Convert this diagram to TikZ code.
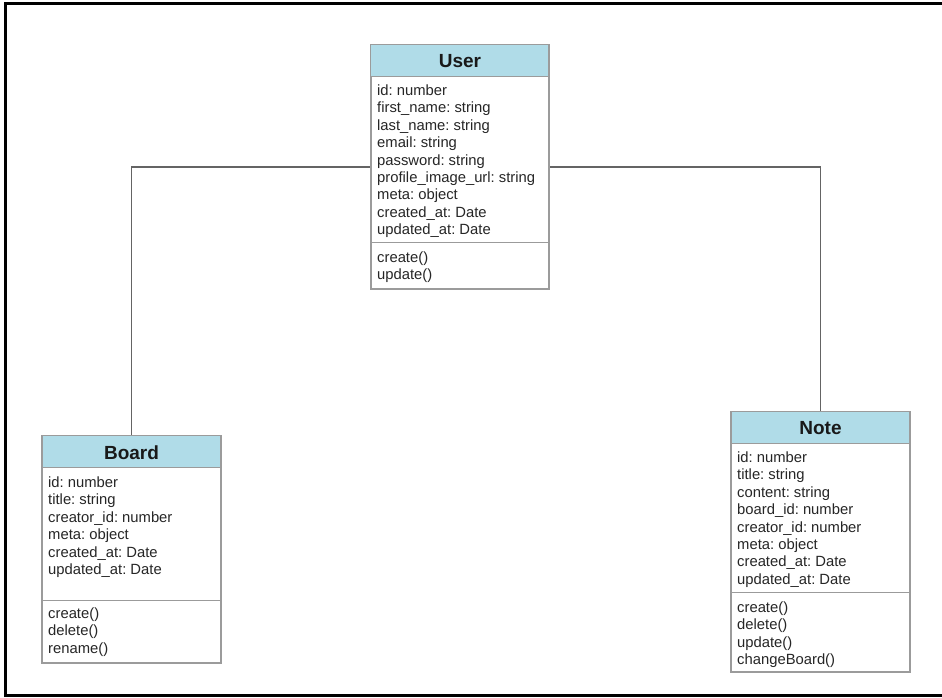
\documentclass[tikz,border=0pt]{standalone}
\usepackage{fontspec}
\setmainfont{Liberation Sans}
\frenchspacing
\definecolor{hdrblue}{RGB}{176,220,232}
\definecolor{boxgray}{RGB}{155,155,155}
\definecolor{conngray}{RGB}{100,100,100}
\begin{document}
\begin{tikzpicture}[x=1pt,y=-1pt,
  umlbox/.style={draw=boxgray, line width=1.3pt, fill=white, minimum width=178pt, inner sep=0pt},
  hdr/.style={fill=hdrblue},
  sepline/.style={draw=boxgray, line width=1.3pt},
  title/.style={font=\fontsize{19}{22}\selectfont\bfseries, inner sep=0pt, text=black!90},
  attr/.style={font=\fontsize{14.8}{17.4}\selectfont\frenchspacing, inner sep=0pt, anchor=base west, text=black!85},
  conn/.style={draw=conngray, line width=1.6pt},
  frame/.style={draw=black, line width=3pt}
]
\useasboundingbox (0,0) rectangle (942,697);
\draw[frame] (942,3.5) -- (5.5,3.5) -- (5.5,695.5) -- (942,695.5);

% boxes
\node[umlbox, minimum height=244pt] (user) at (460,167) {};
\node[umlbox, minimum height=227pt] (board) at (131.5,549.5) {};
\node[umlbox, minimum height=260pt] (note) at (820.5,542) {};

% connectors
\draw[conn] (user.west) -| (board.north);
\draw[conn] (user.east) -| (note.north);

% headers
\fill[hdr] (user.north west) rectangle ++(178,32);
\fill[hdr] (board.north west) rectangle ++(178,32);
\fill[hdr] (note.north west) rectangle ++(178,32);
\draw[sepline] ([yshift=-32pt]user.north west) -- ++(178,0);
\draw[sepline] ([yshift=-32pt]board.north west) -- ++(178,0);
\draw[sepline] ([yshift=-32pt]note.north west) -- ++(178,0);
\draw[sepline] ([yshift=-198pt]user.north west) -- ++(178,0);
\draw[sepline] ([yshift=-165pt]board.north west) -- ++(178,0);
\draw[sepline] ([yshift=-181pt]note.north west) -- ++(178,0);
\draw[umlbox, fill=none] (user.north west) rectangle (user.south east);
\draw[umlbox, fill=none] (board.north west) rectangle (board.south east);
\draw[umlbox, fill=none] (note.north west) rectangle (note.south east);

% titles
\node[title] (usertitle) at (460,61.5) {User};
\node[title] (boardtitle) at (131.5,452.5) {Board};
\node[title] (notetitle) at (820.5,428.5) {Note};

% User
\foreach \t [count=\i] in {id: number, first\_name: string, last\_name: string, email: string, password: string, profile\_image\_url: string, meta: object, created\_at: Date, updated\_at: Date}
  \node[attr] (ua\i) at (377,{95.5+17.4*(\i-1)}) {\t};
\foreach \t [count=\i] in {create(), update()}
  \node[attr] (um\i) at (377,{262.5+17.4*(\i-1)}) {\t};

% Board
\foreach \t [count=\i] in {id: number, title: string, creator\_id: number, meta: object, created\_at: Date, updated\_at: Date}
  \node[attr] (ba\i) at (48,{487.5+17.4*(\i-1)}) {\t};
\foreach \t [count=\i] in {create(), delete(), rename()}
  \node[attr] (bm\i) at (48,{618.5+17.4*(\i-1)}) {\t};

% Note
\foreach \t [count=\i] in {id: number, title: string, content: string, board\_id: number, creator\_id: number, meta: object, created\_at: Date, updated\_at: Date}
  \node[attr] (na\i) at (737,{462.5+17.4*(\i-1)}) {\t};
\foreach \t [count=\i] in {create(), delete(), update(), changeBoard()}
  \node[attr] (nm\i) at (737,{612.5+17.4*(\i-1)}) {\t};
\end{tikzpicture}
\end{document}
